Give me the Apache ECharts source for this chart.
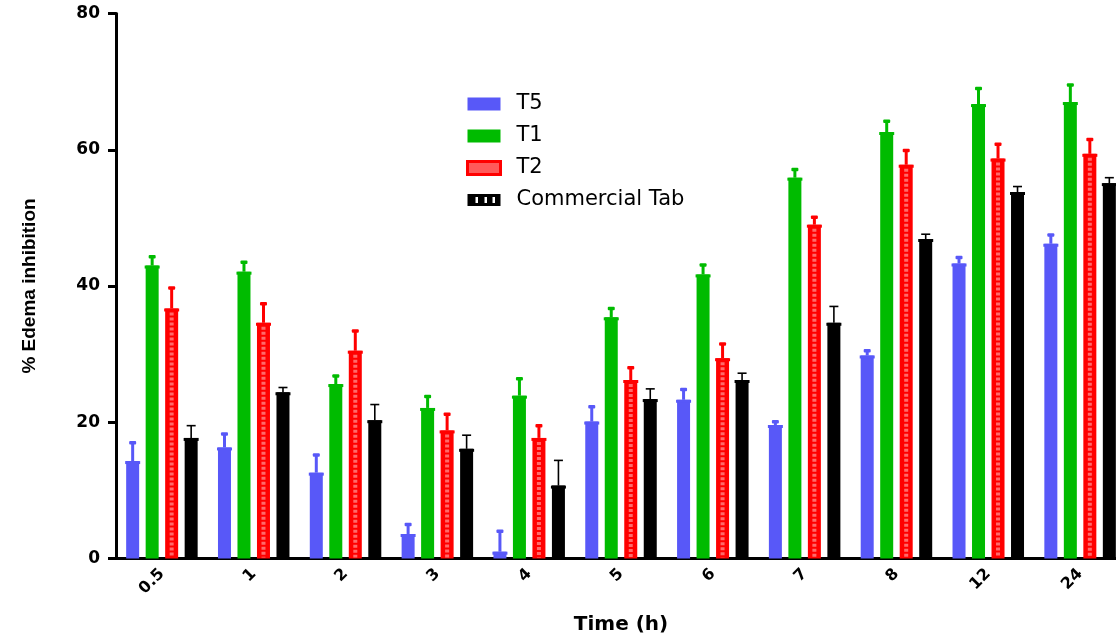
<!DOCTYPE html>
<html>
<head>
<meta charset="utf-8">
<script src="https://cdn.jsdelivr.net/npm/echarts@6/dist/echarts.min.js"></script>
<style>
html,body{margin:0;padding:0;background:#fff;}
#chart{width:1116px;height:639px;}
</style>
</head>
<body>
<div id="chart"></div>
<script>
// ---- data ----
var categories = ['0.5', '1', '2', '3', '4', '5', '6', '7', '8', '12', '24'];
var seriesNames = ['T5', 'T1', 'T2', 'Commercial Tab'];
var t5     = [14.3, 16.3, 12.6, 3.6, 1.0, 20.1, 23.3, 19.6, 29.8, 43.3, 46.2];
var t5Err  = [2.8, 2.1, 2.7, 1.5, 3.1, 2.3, 1.6, 0.6, 0.8, 1.0, 1.4];
var t1     = [43.0, 42.1, 25.6, 22.1, 23.9, 35.4, 41.7, 55.9, 62.6, 66.7, 67.0];
var t1Err  = [1.4, 1.5, 1.3, 1.8, 2.6, 1.4, 1.5, 1.3, 1.7, 2.4, 2.6];
var t2     = [36.7, 34.6, 30.5, 18.8, 17.7, 26.2, 29.4, 49.0, 57.8, 58.7, 59.4];
var t2Err  = [3.1, 2.9, 3.0, 2.5, 1.9, 1.9, 2.2, 1.2, 2.2, 2.2, 2.2];
var com    = [17.7, 24.4, 20.3, 16.1, 10.7, 23.4, 26.2, 34.6, 46.9, 53.8, 55.1];
var comErr = [1.8, 0.7, 2.3, 2.0, 3.7, 1.5, 1.0, 2.4, 0.7, 0.8, 0.8];
var yTicks = [0, 20, 40, 60, 80];

// ---- style ----
var colors = ['#5858F8', '#00BB00', '#FF0000', '#000000'];
var BAR_W = 13, BAR_GAP = 6.5;

function offsetFor(k) { return (k - 1.5) * (BAR_W + BAR_GAP); }

function barSeries(name, vals, k) {
  return {
    type: 'bar', name: name, data: vals,
    barWidth: BAR_W, barGap: '50%',
    itemStyle: { color: colors[k] },
    z: 2
  };
}

function errSeries(name, vals, errs, k) {
  var color = colors[k];
  var thin = (k === 3);
  var pattern = (k === 2);
  return {
    type: 'custom', name: name + ' err',
    data: vals.map(function (v, i) { return [i, v, v + errs[i]]; }),
    encode: { x: 0, y: [1, 2] },
    z: 5, silent: true,
    renderItem: function (params, api) {
      var i = api.value(0);
      var top = api.coord([i, api.value(1)]);
      var base = api.coord([i, 0]);
      var hi = api.coord([i, api.value(2)]);
      var x = top[0] + offsetFor(k);
      var ch = [];
      if (pattern) {
        ch.push({ type: 'line', shape: { x1: x, y1: top[1] + 4, x2: x, y2: base[1] - 1 },
          style: { stroke: '#FF6A6A', lineWidth: 4, lineDash: [3, 2] } });
      }
      // bar top lip
      ch.push({ type: 'rect', shape: { x: x - BAR_W / 2 - 1, y: top[1], width: BAR_W + 2, height: 3 },
        style: { fill: color } });
      if (thin) {
        ch.push({ type: 'line', shape: { x1: x, y1: top[1], x2: x, y2: hi[1] },
          style: { stroke: color, lineWidth: 1.6 } });
        ch.push({ type: 'line', shape: { x1: x - 4.5, y1: hi[1], x2: x + 4.5, y2: hi[1] },
          style: { stroke: color, lineWidth: 1.6 } });
      } else {
        ch.push({ type: 'line', shape: { x1: x, y1: top[1], x2: x, y2: hi[1] },
          style: { stroke: color, lineWidth: 3 } });
        ch.push({ type: 'rect', shape: { x: x - 3.5, y: hi[1] - 1, width: 7, height: 3.5, r: 1 },
          style: { fill: color } });
      }
      return { type: 'group', children: ch };
    }
  };
}

var chart = echarts.init(document.getElementById('chart'));
var option = {
  animation: false,
  backgroundColor: '#ffffff',
  grid: { left: 116, top: 13.5, width: 1010, height: 545, containLabel: false, outerBoundsMode: 'none' },
  legend: {
    orient: 'vertical', left: 466, top: 93, padding: 0,
    itemWidth: 33, itemHeight: 13, itemGap: 10,
    selectedMode: false,
    textStyle: { fontFamily: 'DejaVu Sans', fontSize: 21, color: '#000', lineHeight: 22, padding: [0, 0, 0, 11] },
    data: [
      { name: seriesNames[0], icon: 'rect' },
      { name: seriesNames[1], icon: 'rect' },
      { name: seriesNames[2], icon: 'rect', itemStyle: { color: '#FF5A5A', borderColor: '#FF0000', borderWidth: 3 } },
      { name: seriesNames[3], icon: 'path://M0,0H33V12H0Z M8,3V9H10.5V3Z M17,3V9H19.5V3Z M25,3V9H27.5V3Z' }
    ]
  },
  xAxis: {
    type: 'category', data: categories,
    name: 'Time (h)', nameLocation: 'middle', nameGap: 56,
    nameTextStyle: { fontFamily: 'DejaVu Sans', fontWeight: 'bold', fontSize: 20, color: '#000' },
    axisLine: { lineStyle: { color: '#000', width: 3 } },
    axisTick: { alignWithLabel: true, length: 7, lineStyle: { color: '#000', width: 3 } },
    axisLabel: { rotate: 45, margin: 13, color: '#000', fontFamily: 'DejaVu Sans', fontWeight: 'bold', fontSize: 16, interval: 0 }
  },
  yAxis: {
    type: 'value', min: yTicks[0], max: yTicks[yTicks.length - 1], interval: 20,
    name: '% Edema inhibition', nameLocation: 'middle', nameGap: 77, nameRotate: 90,
    nameTextStyle: { fontFamily: 'Liberation Sans', fontWeight: 'bold', fontSize: 19, color: '#000' },
    axisLine: { show: true, lineStyle: { color: '#000', width: 3 } },
    axisTick: { show: true, length: 8, lineStyle: { color: '#000', width: 3 } },
    splitLine: { show: false },
    axisLabel: { margin: 16, color: '#000', fontFamily: 'DejaVu Sans', fontWeight: 'bold', fontSize: 17 }
  },
  series: [
    barSeries(seriesNames[0], t5, 0),
    barSeries(seriesNames[1], t1, 1),
    barSeries(seriesNames[2], t2, 2),
    barSeries(seriesNames[3], com, 3),
    errSeries(seriesNames[0], t5, t5Err, 0),
    errSeries(seriesNames[1], t1, t1Err, 1),
    errSeries(seriesNames[2], t2, t2Err, 2),
    errSeries(seriesNames[3], com, comErr, 3)
  ]
};
chart.setOption(option);
</script>
</body>
</html>
